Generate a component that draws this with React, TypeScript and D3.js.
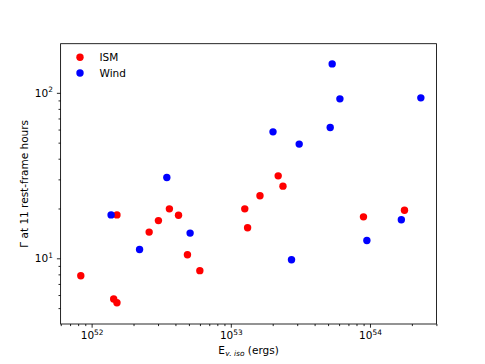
import React, { useRef, useEffect } from 'react';
import * as d3 from 'd3';

// ISM points (E_gamma,iso in ergs, Gamma at 11 h)
const ismE = [8.36e51, 1.44e52, 1.52e52, 1.52e52, 2.59e52, 3.02e52, 3.62e52, 4.21e52, 4.88e52, 5.99e52, 1.26e53, 1.32e53, 1.62e53, 2.19e53, 2.37e53, 8.98e53, 1.77e54];
const ismG = [7.85, 5.68, 5.39, 18.3, 14.4, 16.9, 19.9, 18.2, 10.5, 8.42, 19.9, 15.3, 23.9, 31.5, 27.3, 17.8, 19.5];

// Wind points
const windE = [1.38e52, 2.21e52, 3.47e52, 5.10e52, 2.01e53, 2.73e53, 3.10e53, 5.18e53, 5.35e53, 6.08e53, 9.50e53, 1.68e54, 2.32e54];
const windG = [18.3, 11.3, 30.8, 14.2, 58.1, 9.81, 49.0, 61.8, 149.6, 92.0, 12.8, 17.1, 93.3];

const xMajor = [1e52, 1e53, 1e54];
const yMajor = [10, 100];
const seriesNames = ['ISM', 'Wind'];
const seriesColors = ['#ff0000', '#0000ff'];

const W = 485;
const H = 364;
const margin = { top: 43.7, right: 48.5, bottom: 40, left: 60.6 };

const ScatterChart = () => {
  const svgRef = useRef(null);

  useEffect(() => {
    const svg = d3.select(svgRef.current);
    svg.selectAll('*').remove();

    const innerWidth = W - margin.left - margin.right;
    const innerHeight = H - margin.top - margin.bottom;

    const x = d3.scaleLog()
      .domain([Math.pow(10, 51.777), Math.pow(10, 54.478)])
      .range([0, innerWidth]);
    const y = d3.scaleLog()
      .domain([Math.pow(10, 0.603), Math.pow(10, 2.297)])
      .range([innerHeight, 0]);

    const g = svg.append('g')
      .attr('transform', `translate(${margin.left},${margin.top})`);

    const font = 'DejaVu Sans, sans-serif';

    // minor ticks
    const xMinor = x.ticks().filter(d => !xMajor.some(m => Math.abs(m - d) / m < 1e-6));
    const yMinor = y.ticks().filter(d => !yMajor.some(m => Math.abs(m - d) / m < 1e-6));

    g.append('g')
      .attr('transform', `translate(0,${innerHeight})`)
      .call(d3.axisBottom(x).tickValues(xMinor).tickSize(2.1).tickFormat(() => ''))
      .call(a => a.select('.domain').remove());
    g.append('g')
      .call(d3.axisLeft(y).tickValues(yMinor).tickSize(2.1).tickFormat(() => ''))
      .call(a => a.select('.domain').remove());

    // major ticks with superscript labels
    const xAx = g.append('g')
      .attr('transform', `translate(0,${innerHeight})`)
      .call(d3.axisBottom(x).tickValues(xMajor).tickSize(3.7).tickPadding(4).tickFormat(() => ''));
    xAx.select('.domain').remove();
    xAx.selectAll('.tick text').each(function (d) {
      const t = d3.select(this)
        .attr('font-family', font)
        .attr('font-size', 10.5)
        .attr('fill', '#000');
      t.append('tspan').text('10');
      t.append('tspan').attr('dy', -4.5).attr('font-size', 7.4).text(String(Math.round(Math.log10(d))));
    });

    const yAx = g.append('g')
      .call(d3.axisLeft(y).tickValues(yMajor).tickSize(3.7).tickPadding(4).tickFormat(() => ''));
    yAx.select('.domain').remove();
    yAx.selectAll('.tick text').each(function (d) {
      const t = d3.select(this)
        .attr('font-family', font)
        .attr('font-size', 10.5)
        .attr('fill', '#000');
      t.append('tspan').text('10');
      t.append('tspan').attr('dy', -4.5).attr('font-size', 7.4).text(String(Math.round(Math.log10(d))));
    });
    g.selectAll('.tick line').attr('stroke', '#000').attr('stroke-width', 0.85);

    // frame
    g.append('rect')
      .attr('width', innerWidth)
      .attr('height', innerHeight)
      .attr('fill', 'none')
      .attr('stroke', '#000')
      .attr('stroke-width', 0.85);

    // points
    const series = [
      { E: ismE, G: ismG },
      { E: windE, G: windG },
    ];
    series.forEach((s, i) => {
      g.append('g')
        .selectAll('circle')
        .data(s.E.map((e, k) => [e, s.G[k]]))
        .join('circle')
        .attr('cx', d => x(d[0]))
        .attr('cy', d => y(d[1]))
        .attr('r', 3.7)
        .attr('fill', seriesColors[i]);
    });

    // legend
    const legend = g.append('g').attr('transform', 'translate(19.4,13.6)');
    seriesNames.forEach((name, i) => {
      legend.append('circle')
        .attr('cx', 0)
        .attr('cy', i * 15.7)
        .attr('r', 3.7)
        .attr('fill', seriesColors[i]);
      legend.append('text')
        .attr('x', 19.5)
        .attr('y', i * 15.7)
        .attr('dy', '0.36em')
        .attr('font-family', font)
        .attr('font-size', 10.5)
        .text(name);
    });

    // x label
    const xl = svg.append('text')
      .attr('x', margin.left + innerWidth / 2)
      .attr('y', 353.5)
      .attr('text-anchor', 'middle')
      .attr('font-family', font)
      .attr('font-size', 10.5);
    xl.append('tspan').text('E');
    xl.append('tspan').attr('dy', 2.5).attr('font-size', 7.4).attr('font-style', 'italic').text('γ, iso');
    xl.append('tspan').attr('dy', -2.5).text(' (ergs)');

    // y label
    svg.append('text')
      .attr('transform', `translate(28,${margin.top + innerHeight / 2}) rotate(-90)`)
      .attr('text-anchor', 'middle')
      .attr('font-family', font)
      .attr('font-size', 10.5)
      .text('Γ at 11 rest-frame hours');
  }, []);

  return <svg ref={svgRef} width={W} height={H} style={{ display: 'block' }} />;
};

export default function App() {
  return (
    <div style={{ margin: -8 }}>
      <ScatterChart />
    </div>
  );
}
